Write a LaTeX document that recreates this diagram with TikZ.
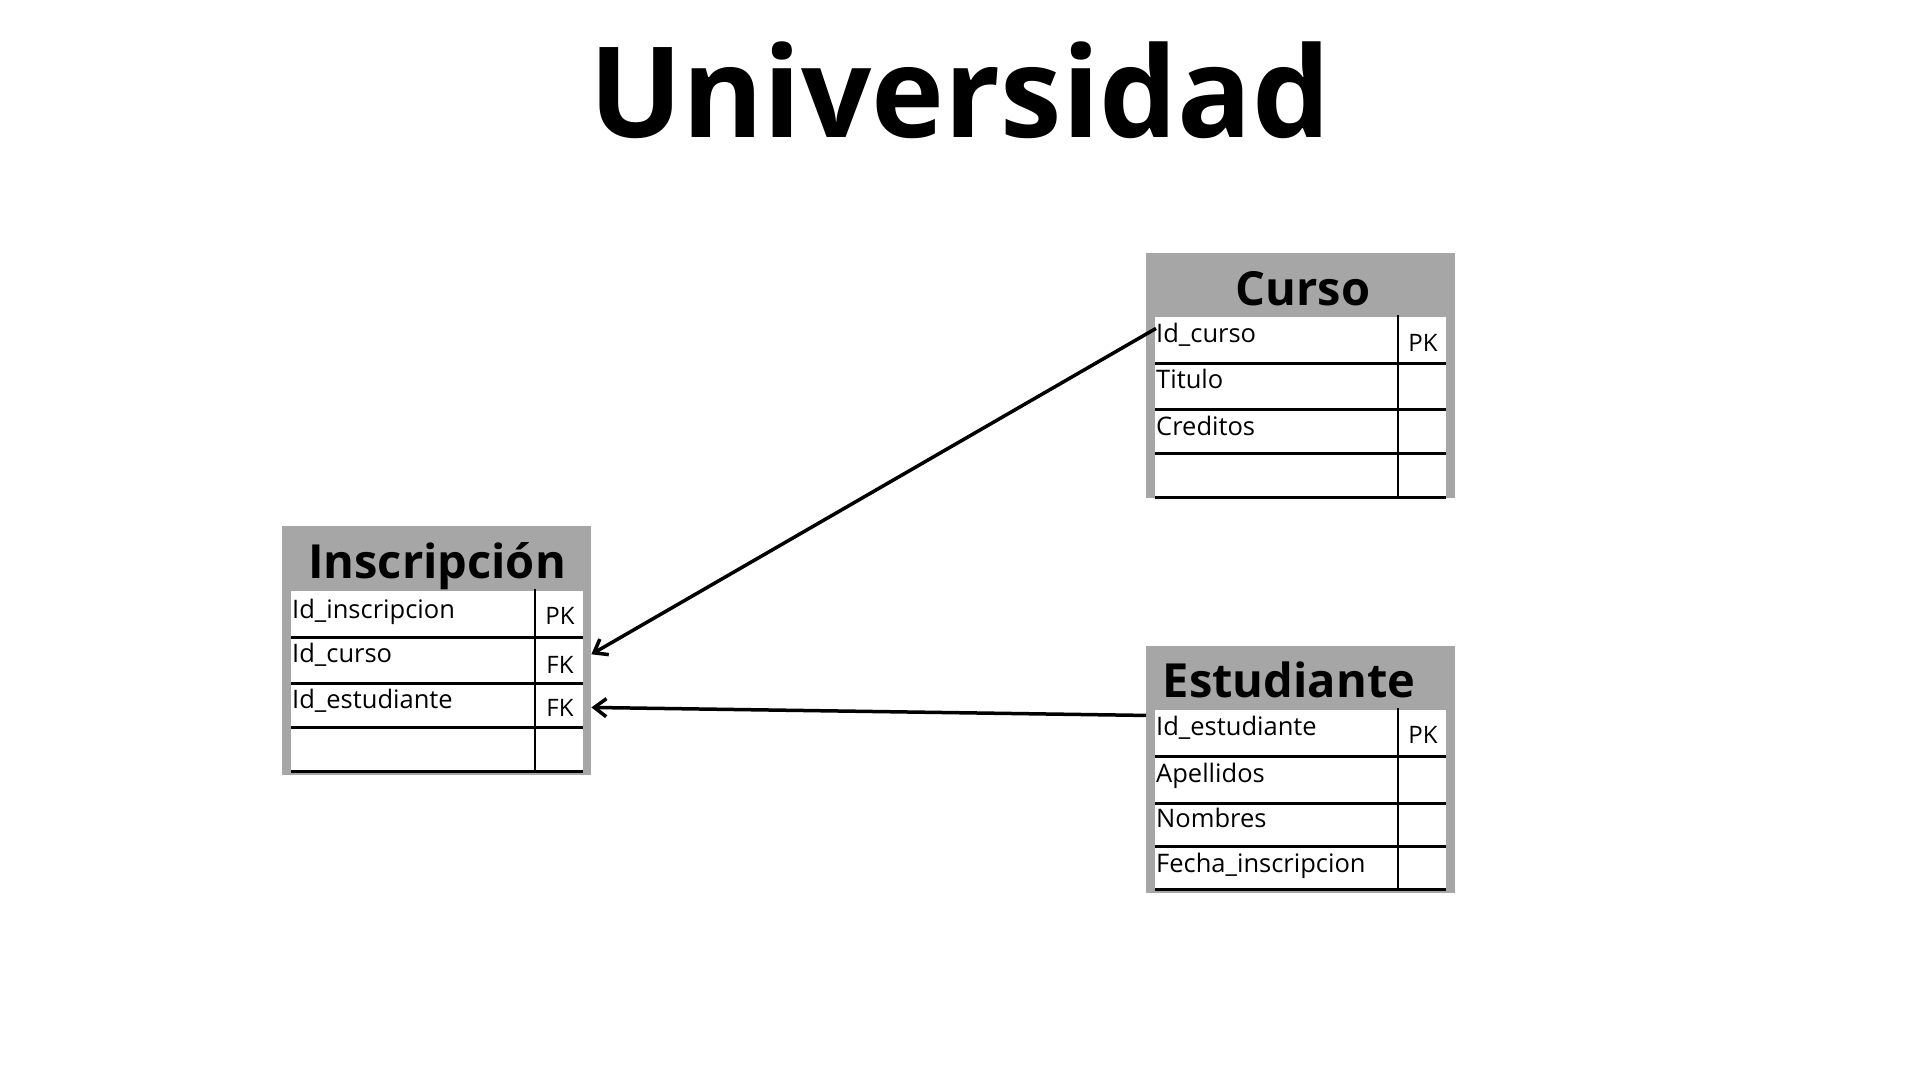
\documentclass[tikz,border=0pt]{standalone}
\usepackage{fontspec}
\setmainfont{Open Sans}
\newfontfamily\headfont[FakeStretch=0.98]{Open Sans}
\usetikzlibrary{arrows.meta}
\definecolor{gris}{HTML}{A6A6A6}

\begin{document}
\begin{tikzpicture}[x=1pt,y=-1pt,
		caja/.style={fill=gris,draw=none,inner sep=0,anchor=north west,minimum width=309pt},
		titulo/.style={anchor=base,inner sep=0,font=\bfseries\fontsize{47}{47}\selectfont},
		campo/.style={anchor=base west,inner sep=0,font=\fontsize{25.5}{25.5}\selectfont},
		clave/.style={anchor=base,inner sep=0,font=\fontsize{24}{24}\selectfont},
		linea/.style={line width=3pt},
		rel/.style={line width=3.5pt,-{Straight Barb[length=12pt,width=18pt]}}]
	\useasboundingbox (0,0) rectangle (1920,1080);

	\node[anchor=base,inner sep=0,font=\headfont\bfseries\fontsize{126}{126}\selectfont] (univ) at (960,137) {Universidad};

	% Inscripcion
	\node[caja,minimum height=249pt] (ins) at (282,526) {};
	\node[titulo] (ins-t) at (437,578) {Inscripción};
	\fill[white] (291,591) rectangle (583,771);
	\foreach \y in {637,683,727,771}{
			\draw[linea] (291,\y) -- (583,\y);
		}
	\draw[line width=2.5pt] (535,589) -- (535,773);
	\foreach \t/\y [count=\i] in {Id\_inscripcion/618,Id\_curso/662,Id\_estudiante/708}{
			\node[campo] (ins-c\i) at (292,\y) {\t};
		}
	\foreach \t/\y [count=\i] in {PK/624,FK/673,FK/716}{
			\node[clave] (ins-k\i) at (560,\y) {\t};
		}

	% Curso
	\node[caja,minimum height=245pt] (cur) at (1146,253) {};
	\node[titulo] (cur-t) at (1303,305) {Curso};
	\fill[white] (1155,317) rectangle (1446,497);
	\foreach \y in {363,409,453,497}{
			\draw[linea] (1155,\y) -- (1446,\y);
		}
	\draw[line width=2.5pt] (1398,315) -- (1398,499);
	\foreach \t/\y [count=\i] in {Id\_curso/342,Titulo/388,Creditos/435}{
			\node[campo] (cur-c\i) at (1156,\y) {\t};
		}
	\node[clave] (cur-k1) at (1423,351) {PK};

	% Estudiante
	\node[caja,minimum height=247pt] (est) at (1146,646) {};
	\node[titulo] (est-t) at (1289,697) {Estudiante};
	\fill[white] (1155,710) rectangle (1446,889);
	\foreach \y in {756,803,846,889}{
			\draw[linea] (1155,\y) -- (1446,\y);
		}
	\draw[line width=2.5pt] (1398,708) -- (1398,891);
	\foreach \t/\y [count=\i] in {Id\_estudiante/735,Apellidos/782,Nombres/827,Fecha\_inscripcion/872}{
			\node[campo] (est-c\i) at (1156,\y) {\t};
		}
	\node[clave] (est-k1) at (1423,743) {PK};

	\draw[rel] ([yshift=-6pt]cur-c1.north west) -- (ins.east |- ins-c2);
	\draw[rel] (est.west |- est-c1.north) -- (ins.east |- ins-k3);
\end{tikzpicture}
\end{document}
